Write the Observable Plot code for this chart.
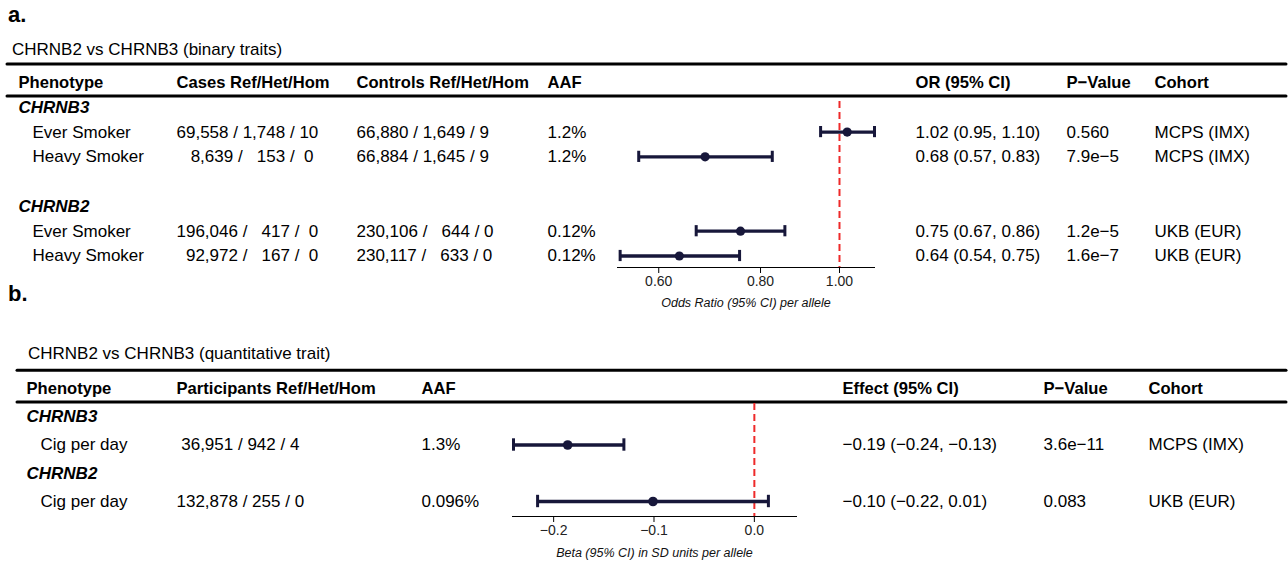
<!DOCTYPE html>
<html><head><meta charset="utf-8">
<script src="https://cdn.jsdelivr.net/npm/d3@7"></script>
<script src="https://cdn.jsdelivr.net/npm/@observablehq/plot@0.6"></script>
<style>
html,body{margin:0;padding:0;background:#fff;}
#fig{position:relative;width:1288px;height:567px;font-family:"Liberation Sans",Arial,Helvetica,sans-serif;color:#000;overflow:hidden;background:#fff;}
.lab{position:absolute;line-height:1;white-space:pre;z-index:2;}
.panel{position:absolute;left:0;z-index:1;}
svg text{white-space:pre;}
</style></head><body><div id="fig"></div>
<script>
// ---------------- Panel a data (binary traits) ----------------
const aTitle = "CHRNB2 vs CHRNB3 (binary traits)";
const aGenes = ["CHRNB3", "CHRNB2"];
const aGeneOf = ["CHRNB3", "CHRNB3", "CHRNB2", "CHRNB2"];
const aPhenotype = ["Ever Smoker", "Heavy Smoker", "Ever Smoker", "Heavy Smoker"];
const aCases = ["69,558 / 1,748 / 10", "   8,639 /   153 /  0", "196,046 /   417 /  0", "  92,972 /   167 /  0"];
const aControls = ["66,880 / 1,649 / 9", "66,884 / 1,645 / 9", "230,106 /   644 / 0", "230,117 /   633 / 0"];
const aAAF = ["1.2%", "1.2%", "0.12%", "0.12%"];
const aOR = [1.022, 0.684, 0.756, 0.636];
const aLo = [0.948, 0.567, 0.667, 0.538];
const aHi = [1.104, 0.827, 0.857, 0.754];
const aEstText = ["1.02 (0.95, 1.10)", "0.68 (0.57, 0.83)", "0.75 (0.67, 0.86)", "0.64 (0.54, 0.75)"];
const aP = ["0.560", "7.9e\u22125", "1.2e\u22125", "1.6e\u22127"];
const aCohort = ["MCPS (IMX)", "MCPS (IMX)", "UKB (EUR)", "UKB (EUR)"];
const aHeaders = ["Phenotype", "Cases Ref/Het/Hom", "Controls Ref/Het/Hom", "AAF", "OR (95% CI)", "P\u2212Value", "Cohort"];
const aTicks = [0.6, 0.8, 1.0];
const aAxisLabel = "Odds Ratio (95% CI) per allele";

// ---------------- Panel b data (quantitative trait) ----------------
const bTitle = "CHRNB2 vs CHRNB3 (quantitative trait)";
const bGenes = ["CHRNB3", "CHRNB2"];
const bGeneOf = ["CHRNB3", "CHRNB2"];
const bPhenotype = ["Cig per day", "Cig per day"];
const bParticipants = [" 36,951 / 942 / 4", "132,878 / 255 / 0"];
const bAAF = ["1.3%", "0.096%"];
const bBeta = [-0.186, -0.101];
const bLo = [-0.240, -0.216];
const bHi = [-0.130, 0.014];
const bEstText = ["\u22120.19 (\u22120.24, \u22120.13)", "\u22120.10 (\u22120.22, 0.01)"];
const bP = ["3.6e\u221211", "0.083"];
const bCohort = ["MCPS (IMX)", "UKB (EUR)"];
const bHeaders = ["Phenotype", "Participants Ref/Het/Hom", "AAF", "Effect (95% CI)", "P\u2212Value", "Cohort"];
const bTicks = [-0.2, -0.1, 0.0];
const bAxisLabel = "Beta (95% CI) in SD units per allele";

// ---------------- build records ----------------
const aItems = aPhenotype.map((p, i) => ({gene: aGeneOf[i], phenotype: p, cases: aCases[i], controls: aControls[i],
  aaf: aAAF[i], est: aEstText[i], p: aP[i], cohort: aCohort[i], val: aOR[i], lo: aLo[i], hi: aHi[i]}));
const bItems = bPhenotype.map((p, i) => ({gene: bGeneOf[i], phenotype: p, part: bParticipants[i],
  aaf: bAAF[i], est: bEstText[i], p: bP[i], cohort: bCohort[i], val: bBeta[i], lo: bLo[i], hi: bHi[i]}));

const W = 1288;
const FONT = "Liberation Sans, Arial, Helvetica, sans-serif";
const NAVY = "#17173a";
const RED = "#ee2a2a";

function panel(cfg) {
  const {items, genes, gap, headers, keys, colX, indent, L, xScale, ticks, tickFormat, ref, axisLabel, center} = cfg;
  let r = 1;
  const geneRows = [], rows = [];
  genes.forEach((g, gi) => {
    if (gi > 0) r += gap;
    geneRows.push({label: g, row: r++});
    items.filter(d => d.gene === g).forEach(d => rows.push({...d, row: r++}));
  });
  const nLast = r - 1;
  const step = (L.yLast - L.yHeader) / nLast;
  const capH = L.capHalf / step;
  const ML = L.ml, MR = L.mr;
  const marks = [
    // table rules
    Plot.ruleY([0], {dy: L.ruleTop, strokeWidth: 3, stroke: "#000", strokeLinecap: "round",
      insetLeft: -(ML - L.lineX0), insetRight: -(MR - (W - L.lineX1))}),
    Plot.ruleY([0], {dy: L.ruleBot, strokeWidth: 3, stroke: "#000", strokeLinecap: "round",
      insetLeft: -(ML - L.lineX0), insetRight: -(MR - (W - L.lineX1))}),
    // reference line
    Plot.ruleX([ref], {stroke: RED, strokeWidth: 2, strokeDasharray: "7,4"}),
    // CI bars
    Plot.ruleY(rows, {y: "row", x1: "lo", x2: "hi", stroke: NAVY, strokeWidth: 3.3}),
    Plot.ruleX(rows, {x: "lo", y1: d => d.row - capH, y2: d => d.row + capH, stroke: NAVY, strokeWidth: 3}),
    Plot.ruleX(rows, {x: "hi", y1: d => d.row - capH, y2: d => d.row + capH, stroke: NAVY, strokeWidth: 3}),
    Plot.dot(rows, {x: "val", y: "row", r: L.r, fill: NAVY, stroke: null}),
    // x axis
    Plot.frame({anchor: "bottom", stroke: "#000", strokeWidth: 1}),
    Plot.axisX({anchor: "bottom", ticks, tickFormat, tickSize: 6, tickPadding: 3, fontSize: 14, label: null, stroke: "#000", fill: "#222"}),
    Plot.text([axisLabel], {x: [center], text: d => d, frameAnchor: "bottom", dy: L.labelDy,
      fontStyle: "italic", fontSize: 12.5, fill: "#111"}),
    // gene group labels
    Plot.text(geneRows, {y: "row", text: "label", frameAnchor: "left", textAnchor: "start",
      dx: colX.phenotype - ML, fontWeight: "bold", fontStyle: "italic", fontSize: 17})
  ];
  keys.forEach((k, i) => {
    marks.push(Plot.text([{label: headers[i], row: 0}], {y: "row", text: "label", frameAnchor: "left",
      textAnchor: "start", dx: colX[k] - ML, fontWeight: "bold", fontSize: 16.6}));
    marks.push(Plot.text(rows, {y: "row", text: k, frameAnchor: "left", textAnchor: "start",
      dx: colX[k] + (k === "phenotype" ? indent : 0) - ML, fontSize: 17}));
  });
  return Plot.plot({
    width: W, height: L.height,
    marginLeft: ML, marginRight: MR, marginTop: L.mt, marginBottom: L.mb,
    x: xScale,
    y: {type: "linear", domain: [0, nLast], range: [L.yHeader, L.yLast], axis: null},
    style: {background: "transparent", overflow: "visible", fontFamily: FONT, color: "#000"},
    marks
  });
}

const aDomain = [0.534, 1.104];
const svgA = panel({
  items: aItems, genes: aGenes, gap: 1, headers: aHeaders,
  keys: ["phenotype", "cases", "controls", "aaf", "est", "p", "cohort"],
  colX: {phenotype: 18, cases: 176, controls: 356, aaf: 547, est: 915, p: 1066, cohort: 1154},
  indent: 14,
  L: {height: 320, ml: 617, mr: W - 874, mt: 101, mb: 320 - 267, yHeader: 82, yLast: 255.5,
      ruleTop: -18.5, ruleBot: 13.5, lineX0: 7, lineX1: 1286, capHalf: 5.6, r: 4.6, labelDy: 39},
  xScale: {type: "log", domain: aDomain},
  ticks: aTicks, tickFormat: d3.format(".2f"), ref: 1, axisLabel: aAxisLabel,
  center: Math.sqrt(aDomain[0] * aDomain[1])
});

const bDomain = [-0.241, 0.042];
const bTop = 320;
const svgB = panel({
  items: bItems, genes: bGenes, gap: 0, headers: bHeaders,
  keys: ["phenotype", "part", "aaf", "est", "p", "cohort"],
  colX: {phenotype: 26, part: 176, aaf: 421, est: 842, p: 1043, cohort: 1148},
  indent: 14,
  L: {height: 247, ml: 512, mr: W - 796, mt: 403 - bTop, mb: 247 - (516 - bTop), yHeader: 388 - bTop, yLast: 501 - bTop,
      ruleTop: -18.3, ruleBot: 13.6, lineX0: 17, lineX1: 1286, capHalf: 6.2, r: 4.8, labelDy: 40},
  xScale: {type: "linear", domain: bDomain},
  ticks: bTicks, tickFormat: d3.format(".1f"), ref: 0, axisLabel: bAxisLabel,
  center: (bDomain[0] + bDomain[1]) / 2
});

const fig = document.getElementById("fig");
function lab(text, left, baseline, size, weight) {
  const d = document.createElement("div");
  d.className = "lab";
  d.textContent = text;
  d.style.left = left + "px";
  d.style.top = (baseline - 0.8465 * size) + "px";
  d.style.fontSize = size + "px";
  d.style.fontWeight = weight || "normal";
  fig.appendChild(d);
}
svgA.classList.add("panel"); svgA.style.top = "0px";
svgB.classList.add("panel"); svgB.style.top = bTop + "px";
fig.appendChild(svgA);
fig.appendChild(svgB);
lab("a.", 8, 23, 22, "bold");
lab(aTitle, 12, 55, 17);
lab("b.", 8, 302, 22, "bold");
lab(bTitle, 28, 359, 17);
</script></body></html>
